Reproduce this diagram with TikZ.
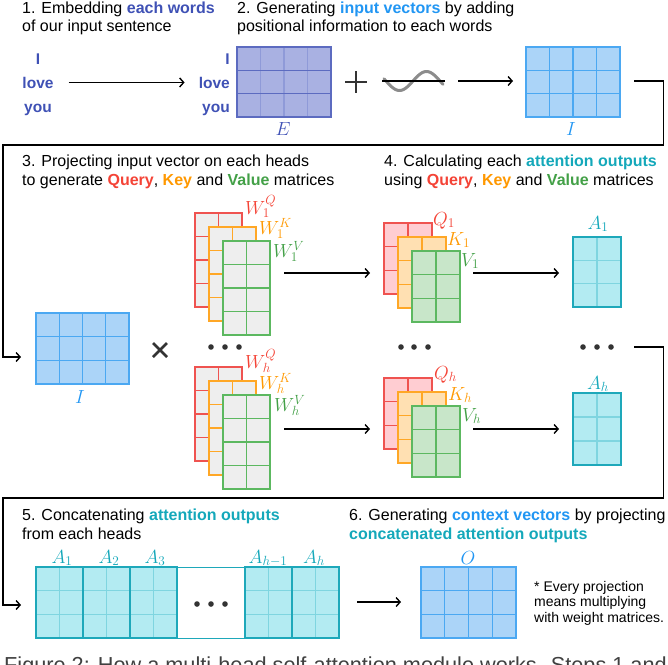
\documentclass[tikz,border=0pt]{standalone}
\usepackage{fix-cm}
\usepackage{fontspec}
\setmainfont{Liberation Sans}
\usetikzlibrary{arrows.meta}
% text colours
\definecolor{ind}{HTML}{3F51B5}
\definecolor{blu}{HTML}{2196F3}
\definecolor{redq}{HTML}{F44336}
\definecolor{orgk}{HTML}{FF9800}
\definecolor{grnv}{HTML}{43A047}
\definecolor{cya}{HTML}{14A8BA}
\definecolor{dotc}{HTML}{333333}
% matrix colours: fill, border, row lines, column lines
\definecolor{Efill}{HTML}{A9B1E2}\definecolor{Ebd}{HTML}{5C6BC0}\definecolor{Erow}{HTML}{5C6BC0}\definecolor{Ecol}{HTML}{8F9AD8}
\definecolor{Ifill}{HTML}{ABD4F8}\definecolor{Ibd}{HTML}{4BA8F2}\definecolor{Irow}{HTML}{4BA8F2}\definecolor{Icol}{HTML}{4BA8F2}
\definecolor{WQfill}{HTML}{EEEEEE}\definecolor{WQbd}{HTML}{EF5350}\definecolor{WQrow}{HTML}{EF5350}\definecolor{WQcol}{HTML}{EF5350}
\definecolor{WKfill}{HTML}{EEEEEE}\definecolor{WKbd}{HTML}{FFA726}\definecolor{WKrow}{HTML}{FFA726}\definecolor{WKcol}{HTML}{FFA726}
\definecolor{WVfill}{HTML}{EEEEEE}\definecolor{WVbd}{HTML}{5CB860}\definecolor{WVrow}{HTML}{5CB860}\definecolor{WVcol}{HTML}{5CB860}
\definecolor{Qfill}{HTML}{FFCDD2}\definecolor{Qbd}{HTML}{EF5350}\definecolor{Qrow}{HTML}{EF5350}\definecolor{Qcol}{HTML}{EF5350}
\definecolor{Kfill}{HTML}{FFE0B2}\definecolor{Kbd}{HTML}{FFA726}\definecolor{Krow}{HTML}{FFA726}\definecolor{Kcol}{HTML}{FFA726}
\definecolor{Vfill}{HTML}{C8E6C9}\definecolor{Vbd}{HTML}{5CB860}\definecolor{Vrow}{HTML}{5CB860}\definecolor{Vcol}{HTML}{5CB860}
\definecolor{Afill}{HTML}{B3EBF2}\definecolor{Abd}{HTML}{1EA8BA}\definecolor{Arow}{HTML}{7FD5E0}\definecolor{Acol}{HTML}{7FD5E0}
\tikzset{
  arr/.style={line width=1.4pt, -{Straight Barb[length=4pt,width=9pt,line width=1.4pt]}},
  conn/.style={line width=1.4pt},
  txt/.style={inner sep=0pt, anchor=base west, font=\fontsize{16}{19}\selectfont},
  notetxt/.style={inner sep=0pt, anchor=base west, font=\fontsize{14}{15.5}\selectfont},
  word/.style={inner sep=0pt, font=\fontsize{15.5}{18}\selectfont\bfseries, text=ind},
  mlab/.style={inner sep=0pt, font=\fontsize{19}{19}\selectfont},
  dotm/.style={circle, fill=dotc, inner sep=0pt, minimum size=5.6pt},
}
% \gmat{name}{x}{y}{w}{h}{cols}{rows}{colour prefix}
\newcommand{\gmat}[8]{%
  \node[fill=#8fill, inner sep=0pt, outer sep=0pt, minimum width=#4pt, minimum height=#5pt, anchor=north west] (#1) at (#2,#3) {};
  \pgfmathtruncatemacro{\gmc}{#6-1}%
  \pgfmathtruncatemacro{\gmr}{#7-1}%
  \foreach \k in {1,...,\gmc} {\draw[#8col, line width=1.1pt] (#2+\k*#4/#6, #3) -- ++(0,#5);}
  \foreach \k in {1,...,\gmr} {\draw[#8row, line width=1.1pt] (#2, #3+\k*#5/#7) -- ++(#4,0);}
  \draw[#8bd, line width=1.4pt] (#1.north west) rectangle (#1.south east);
}
\begin{document}
\begin{tikzpicture}[x=1pt,y=-1pt]
\useasboundingbox (0,0) rectangle (668,664);
\clip (0,0) rectangle (668,664);

% ---------- texts ----------
\node[txt] (t1a) at (22,13.3) {1. Embedding \textbf{\color{ind}each words}};
\node[txt] (t1b) at (22,31.7) {of our input sentence};
\node[txt] (t2a) at (237,13.3) {2. Generating \textbf{\color{blu}input vectors} by adding};
\node[txt] (t2b) at (237,31.7) {positional information to each words};
\node[txt] (t3a) at (22,166.7) {3. Projecting input vector on each heads};
\node[txt] (t3b) at (22,185.7) {to generate \textbf{\color{redq}Query}, \textbf{\color{orgk}Key} and \textbf{\color{grnv}Value} matrices};
\node[txt] (t4a) at (384,166.7) {4. Calculating each \textbf{\color{cya}attention outputs}};
\node[txt] (t4b) at (384,185.7) {using \textbf{\color{redq}Query}, \textbf{\color{orgk}Key} and \textbf{\color{grnv}Value} matrices};
\node[txt] (t5a) at (22,520.7) {5. Concatenating \textbf{\color{cya}attention outputs}};
\node[txt] (t5b) at (22,539.3) {from each heads};
\node[txt] (t6a) at (349,520.7) {6. Generating \textbf{\color{blu}context vectors} by projecting};
\node[txt] (t6b) at (349,539.3) {\textbf{\color{cya}concatenated attention outputs}};
\node[notetxt] (n1) at (534,591.7) {* Every projection};
\node[notetxt] (n2) at (534,606.7) {means multiplying};
\node[notetxt] (n3) at (534,622.3) {with weight matrices.};

% ---------- step 1 ----------
\node[word, anchor=base] (wl1) at (38,64) {I};
\node[word, anchor=base] (wl2) at (38,88) {love};
\node[word, anchor=base] (wl3) at (38,112) {you};
\node[word, anchor=base east] (wr1) at (230,64) {I};
\node[word, anchor=base east] (wr2) at (230,88) {love};
\node[word, anchor=base east] (wr3) at (230,112) {you};
\draw[arr] ([xshift=15pt]wl2.east) -- ([xshift=-14pt]wr2.west);

\gmat{E}{237}{47}{94}{70}{4}{3}{E}
\node[mlab, anchor=base, text=ind] (Elab) at (283,135) {$E$};

% ---------- step 2 ----------
\draw[line width=2.6pt, black!80] (345,82) -- (367,82) (356,71) -- (356,93);
\draw[black!45, line width=3pt, line cap=round] plot[domain=384:443, samples=60, smooth] (\x, {81-9.5*sin(360*(\x-413)/54)});
\coordinate (wvl) at (382,81);
\coordinate (wvr) at (445,81);
\draw[line width=1.6pt] (wvl) -- (wvr);

\gmat{Itop}{526}{47}{94}{70}{4}{3}{I}
\node[mlab, anchor=base, text=blu] (Itoplab) at (571,135) {$I$};
\coordinate (a2s) at (458,81);
\coordinate (a2e) at (513,81);
\draw[arr] (a2s) -- (a2e);

% ---------- connector 1 ----------
\coordinate (c1s) at (634,81);
\coordinate (c1a) at (663.5,81);
\coordinate (c1b) at (663.5,145);
\coordinate (c1c) at (3,145);
\coordinate (c1d) at (3,357);
\coordinate (c1e) at (21,357);
\draw[arr] (c1s) -- (c1a) -- (c1b) -- (c1c) -- (c1d) -- (c1e);

% ---------- step 3 ----------
\gmat{Imid}{36}{313}{93}{71}{4}{3}{I}
\node[mlab, anchor=base, text=blu] (Imidlab) at (80,403) {$I$};
\draw[line width=2.6pt, black!80] (153,343) -- (167,357) (153,357) -- (167,343);

\gmat{W1Q}{195}{213}{47}{94}{2}{4}{WQ}
\gmat{W1K}{209}{227}{47}{94}{2}{4}{WK}
\gmat{W1V}{223}{241}{47}{94}{2}{4}{WV}
\node[mlab, anchor=base west, text=redq] (lW1Q) at (245,214) {$W_1^Q$};
\node[mlab, anchor=base west, text=orgk] (lW1K) at (259,234) {$W_1^K$};
\node[mlab, anchor=base west, text=grnv] (lW1V) at (273,257) {$W_1^V$};

\node[dotm] (d1a) at (211,347) {};
\node[dotm] (d1b) at (225,347) {};
\node[dotm] (d1c) at (239,347) {};

\gmat{WhQ}{195}{367}{47}{94}{2}{4}{WQ}
\gmat{WhK}{209}{381}{47}{94}{2}{4}{WK}
\gmat{WhV}{223}{395}{47}{94}{2}{4}{WV}
\node[mlab, anchor=base west, text=redq] (lWhQ) at (245,368) {$W_h^Q$};
\node[mlab, anchor=base west, text=orgk] (lWhK) at (259,389) {$W_h^K$};
\node[mlab, anchor=base west, text=grnv] (lWhV) at (274,411) {$W_h^V$};

% ---------- step 4 ----------
\gmat{Q1}{384}{223}{48}{71}{2}{3}{Q}
\gmat{K1}{398}{237}{48}{71}{2}{3}{K}
\gmat{V1}{412}{251}{48}{71}{2}{3}{V}
\node[mlab, anchor=base west, text=redq] (lQ1) at (433,225) {$Q_1$};
\node[mlab, anchor=base west, text=orgk] (lK1) at (447,245) {$K_1$};
\node[mlab, anchor=base west, text=grnv] (lV1) at (461,266) {$V_1$};

\node[dotm] (d2a) at (401,347) {};
\node[dotm] (d2b) at (414,347) {};
\node[dotm] (d2c) at (428,347) {};

\gmat{Qh}{384}{378}{48}{71}{2}{3}{Q}
\gmat{Kh}{398}{392}{48}{71}{2}{3}{K}
\gmat{Vh}{412}{406}{48}{71}{2}{3}{V}
\node[mlab, anchor=base west, text=redq] (lQh) at (434,379) {$Q_h$};
\node[mlab, anchor=base west, text=orgk] (lKh) at (448,400) {$K_h$};
\node[mlab, anchor=base west, text=grnv] (lVh) at (462,421) {$V_h$};

\gmat{A1}{573}{237}{48}{70}{2}{3}{A}
\node[mlab, anchor=base, text=cya] (lA1) at (598,229) {$A_1$};
\node[dotm] (d3a) at (583,347) {};
\node[dotm] (d3b) at (597,347) {};
\node[dotm] (d3c) at (611,347) {};
\gmat{Ah}{573}{393}{48}{72}{2}{3}{A}
\node[mlab, anchor=base, text=cya] (lAh) at (598,389) {$A_h$};

% arrows between stacks
\coordinate (p1s) at (284,273);
\coordinate (p1e) at (370,273);
\coordinate (q1s) at (473,273);
\coordinate (q1e) at (559,273);
\coordinate (phs) at (284,429);
\coordinate (phe) at (370,429);
\coordinate (qhs) at (473,429);
\coordinate (qhe) at (559,429);
\draw[arr] (p1s) -- (p1e);
\draw[arr] (q1s) -- (q1e);
\draw[arr] (phs) -- (phe);
\draw[arr] (qhs) -- (qhe);

% ---------- connector 2 ----------
\coordinate (c2s) at (634,347);
\coordinate (c2a) at (663.5,347);
\coordinate (c2b) at (663.5,498);
\coordinate (c2c) at (3,498);
\coordinate (c2d) at (3,605);
\coordinate (c2e) at (21,605);
\draw[arr] (c2s) -- (c2a) -- (c2b) -- (c2c) -- (c2d) -- (c2e);

% ---------- step 5 ----------
\gmat{C1}{36}{567}{47}{71}{2}{3}{A}
\gmat{C2}{83}{567}{47}{71}{2}{3}{A}
\gmat{C3}{130}{567}{47}{71}{2}{3}{A}
\node[draw=Abd, fill=white, line width=1.4pt, inner sep=0pt, minimum width=68pt, minimum height=71pt, anchor=north west] (Cd) at (177,567) {};
\gmat{C4}{245}{567}{47}{71}{2}{3}{A}
\gmat{C5}{292}{567}{47}{71}{2}{3}{A}
\node[dotm] (d4a) at (197,604) {};
\node[dotm] (d4b) at (211,604) {};
\node[dotm] (d4c) at (225,604) {};
\node[mlab, anchor=base, text=cya] (lC1) at (62,563) {$A_1$};
\node[mlab, anchor=base, text=cya] (lC2) at (109,563) {$A_2$};
\node[mlab, anchor=base, text=cya] (lC3) at (155,563) {$A_3$};
\node[mlab, anchor=base, text=cya] (lC4) at (268,563) {$A_{h-1}$};
\node[mlab, anchor=base, text=cya] (lC5) at (314,563) {$A_h$};

% ---------- step 6 ----------
\coordinate (a6s) at (357,602);
\coordinate (a6e) at (401,602);
\draw[arr] (a6s) -- (a6e);
\gmat{O}{421}{567}{95}{71}{4}{3}{I}
\node[mlab, anchor=base, text=blu] (lO) at (468,564) {$O$};

% ---------- caption (cut by the frame, as in the reference) ----------
\node[inner sep=0pt, anchor=base west, font=\fontsize{21.7}{22}\selectfont, text=black!75] (cap) at (4,672.5) {Figure 2: How a multi-head self-attention module works. Steps 1 and};
\end{tikzpicture}
\end{document}
